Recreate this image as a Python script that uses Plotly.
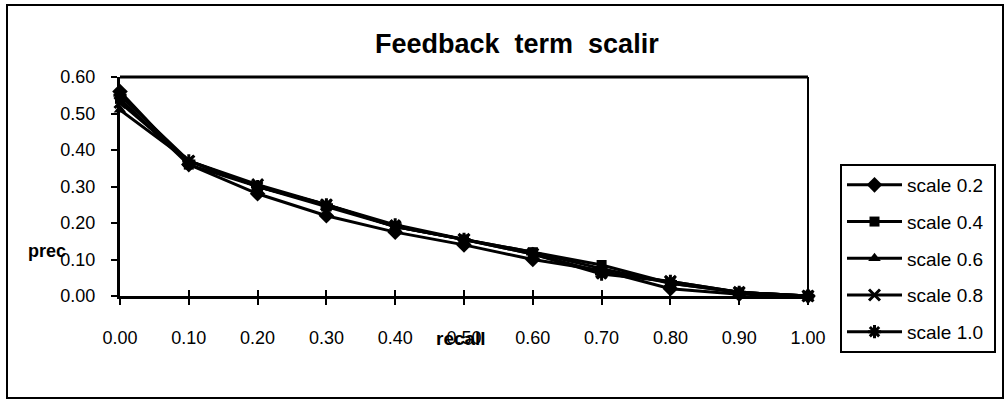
import plotly.graph_objects as go

recall = [0.0, 0.1, 0.2, 0.3, 0.4, 0.5, 0.6, 0.7, 0.8, 0.9, 1.0]
tick_labels = ["0.00", "0.10", "0.20", "0.30", "0.40", "0.50", "0.60", "0.70", "0.80", "0.90", "1.00"]
y_ticks = [0.0, 0.1, 0.2, 0.3, 0.4, 0.5, 0.6]
y_tick_labels = ["0.00", "0.10", "0.20", "0.30", "0.40", "0.50", "0.60"]

scale_02 = [0.56, 0.36, 0.28, 0.22, 0.175, 0.14, 0.10, 0.07, 0.02, 0.005, 0.0]
scale_04 = [0.54, 0.36, 0.30, 0.245, 0.19, 0.155, 0.12, 0.085, 0.035, 0.01, 0.0]
scale_06 = [0.51, 0.37, 0.30, 0.25, 0.19, 0.155, 0.12, 0.075, 0.035, 0.01, 0.0]
scale_08 = [0.53, 0.37, 0.305, 0.25, 0.19, 0.155, 0.115, 0.065, 0.04, 0.01, 0.0]
scale_10 = [0.55, 0.37, 0.30, 0.25, 0.195, 0.155, 0.115, 0.06, 0.04, 0.01, 0.0]

series = [
    ("scale 0.2", scale_02, "diamond", 12, 0),
    ("scale 0.4", scale_04, "square", 10, 0),
    ("scale 0.6", scale_06, "triangle-up", 11, 0),
    ("scale 0.8", scale_08, "x-thin", 11, 3),
    ("scale 1.0", scale_10, "asterisk", 11, 3),
]

FONT = "Liberation Sans, Arial, sans-serif"
fig = go.Figure()
for i, (name, vals, sym, sz, lw) in enumerate(series):
    fig.add_trace(go.Scatter(
        x=recall, y=vals, name=name + "\u00a0", mode="lines+markers", legendgroup=f"g{i}",
        line=dict(color="black", width=3),
        marker=dict(symbol=sym, size=sz, color="black", line=dict(color="black", width=lw)),
        cliponaxis=False,
    ))

W, H = 1008, 402
L, R, T, B = 120, 200, 77, 106
pw, ph = W - L - R, H - T - B

def px(x):
    return (x - L) / pw

def py(y):
    return (H - B - y) / ph

fig.update_layout(
    width=W, height=H,
    margin=dict(l=L, r=R, t=T, b=B),
    paper_bgcolor="white", plot_bgcolor="white",
    font=dict(family=FONT, size=18, color="black"),
    showlegend=True,
    legend=dict(
        x=px(840), y=py(164), xanchor="left", yanchor="top",
        bordercolor="black", borderwidth=2, bgcolor="white",
        font=dict(size=19), tracegroupgap=9, itemwidth=55,
    ),
    xaxis=dict(
        range=[0, 1], tickmode="array", tickvals=recall, ticktext=tick_labels,
        showgrid=False, zeroline=False, showline=True, linecolor="black", linewidth=3,
        ticks="outside", ticklen=6, tickwidth=2, tickcolor="black",
        ticklabelstandoff=17, tickfont=dict(size=18),
    ),
    xaxis2=dict(
        range=[0, 1], overlaying="x", tickmode="array", tickvals=recall,
        showticklabels=False, showgrid=False, zeroline=False, showline=False,
        ticks="inside", ticklen=6, tickwidth=2, tickcolor="black", anchor="y",
        side="bottom",
    ),
    yaxis=dict(
        range=[0, 0.6], tickmode="array", tickvals=y_ticks, ticktext=y_tick_labels,
        showgrid=False, zeroline=False, showline=True, linecolor="black", linewidth=3,
        ticks="outside", ticklen=6, tickwidth=2, tickcolor="black",
        ticklabelstandoff=12, tickfont=dict(size=18),
    ),
    shapes=[
        dict(type="rect", xref="paper", yref="paper", x0=px(7), x1=px(1003), y0=py(398), y1=py(5),
             line=dict(color="black", width=2), layer="below"),
        dict(type="line", xref="paper", yref="paper", x0=0, x1=1, y0=1, y1=1,
             line=dict(color="black", width=3)),
        dict(type="line", xref="paper", yref="paper", x0=1, x1=1, y0=0, y1=1,
             line=dict(color="black", width=2)),
    ],
    annotations=[
        dict(text="<b>Feedback  term  scalir</b>", xref="paper", yref="paper",
             x=px(517), y=py(44), xanchor="center", yanchor="middle", showarrow=False,
             font=dict(size=27)),
        dict(text="<b>recall</b>", xref="paper", yref="paper",
             x=px(461), y=py(338), xanchor="center", yanchor="middle", showarrow=False,
             font=dict(size=19)),
        dict(text="<b>prec</b>", xref="paper", yref="paper",
             x=px(47), y=py(251), xanchor="center", yanchor="middle", showarrow=False,
             font=dict(size=18)),
    ],
)
fig.add_trace(go.Scatter(x=[None], y=[None], xaxis="x2", showlegend=False))

fig.write_html("out.html", config={"displayModeBar": False},
               post_script="document.body.style.margin='0';")
